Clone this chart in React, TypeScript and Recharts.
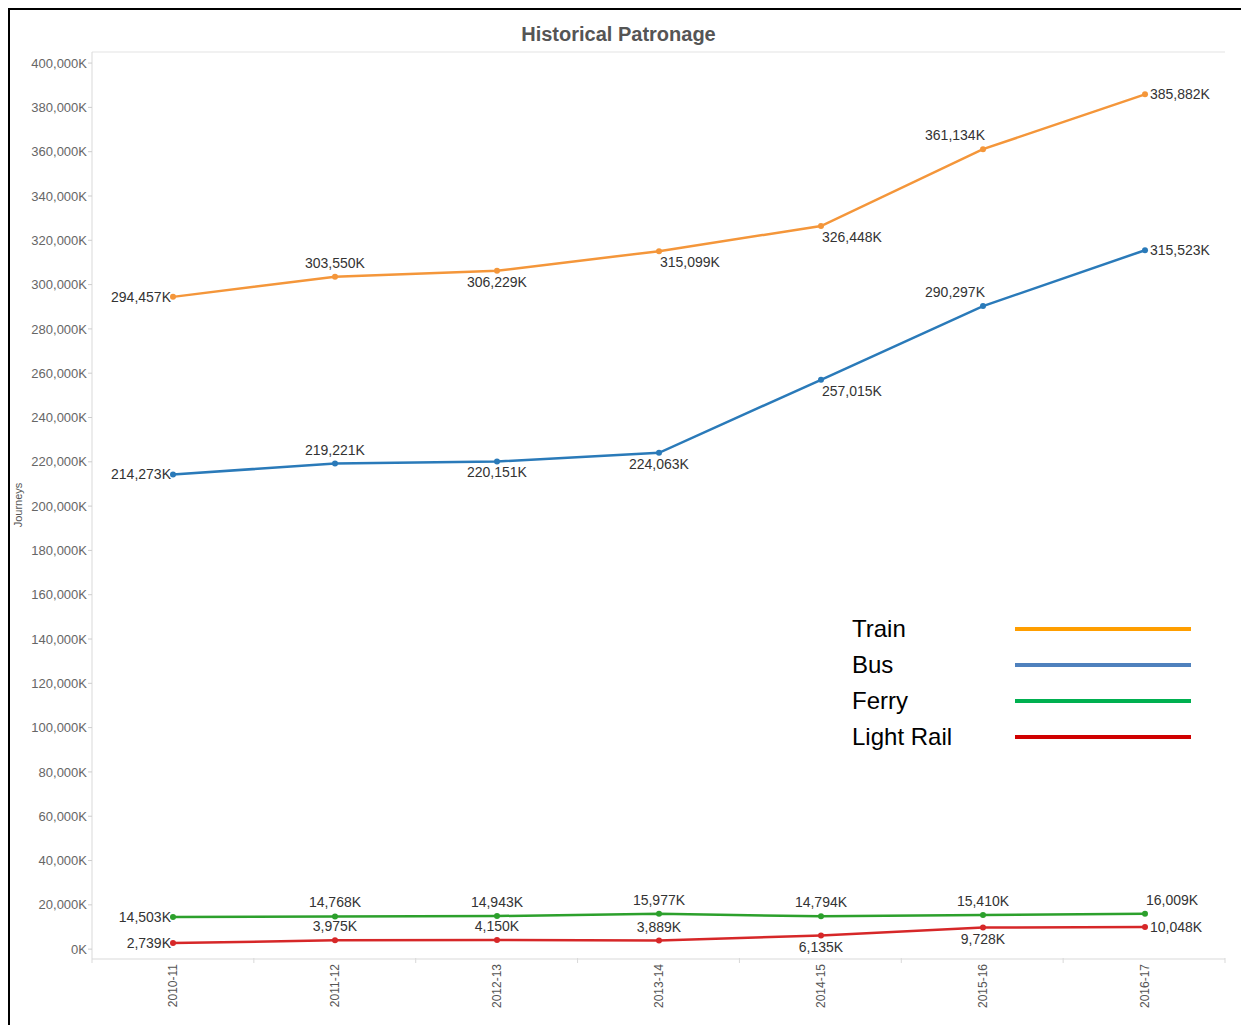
import React from 'react';
import { LineChart, Line, XAxis, YAxis, LabelList, ReferenceLine } from 'recharts';

const years = ['2010-11', '2011-12', '2012-13', '2013-14', '2014-15', '2015-16', '2016-17'];
const train = [294457, 303550, 306229, 315099, 326448, 361134, 385882];
const bus = [214273, 219221, 220151, 224063, 257015, 290297, 315523];
const ferry = [14503, 14768, 14943, 15977, 14794, 15410, 16009];
const lightRail = [2739, 3975, 4150, 3889, 6135, 9728, 10048];
const yTicks = [0, 20000, 40000, 60000, 80000, 100000, 120000, 140000, 160000, 180000, 200000,
  220000, 240000, 260000, 280000, 300000, 320000, 340000, 360000, 380000, 400000];
const bandEdges = [-0.5, 0.5, 1.5, 2.5, 3.5, 4.5, 5.5, 6.5];

// where each point label sits: l=left, r=right, a=above, b=below, s/e = start/end anchored
const trainLabels = ['l', 'a', 'b', 'bs', 'bs', 'ae', 'r'];
const busLabels = ['l', 'a', 'b', 'b', 'bs', 'ae', 'r'];
const ferryLabels = ['l', 'a', 'a', 'a', 'a', 'a', 'as'];
const railLabels = ['l', 'a', 'a', 'a', 'b', 'b', 'r'];

const data = years.map((year, i) => ({
  year,
  pos: i,
  train: train[i],
  bus: bus[i],
  ferry: ferry[i],
  lightRail: lightRail[i],
}));

const series = [
  { key: 'train', name: 'Train', color: '#f4963a', legend: '#ff9e00', labels: trainLabels },
  { key: 'bus', name: 'Bus', color: '#2a7ab9', legend: '#4f81bd', labels: busLabels },
  { key: 'ferry', name: 'Ferry', color: '#2ca02c', legend: '#00b050', labels: ferryLabels },
  { key: 'lightRail', name: 'Light Rail', color: '#d62728', legend: '#d00000', labels: railLabels },
];

const FONT = '"Liberation Sans", Arial, sans-serif';
const fmt = (v: number) => v.toLocaleString('en-US') + 'K';

const makeLabel = (places: string[]) => (props: any) => {
  const { x, y, value, index } = props;
  const p = places[index];
  let tx = x;
  let ty = y;
  let anchor: 'start' | 'middle' | 'end' = 'middle';
  if (p === 'l') { tx = x - 2; ty = y + 5; anchor = 'end'; }
  else if (p === 'r') { tx = x + 5; ty = y + 5; anchor = 'start'; }
  else {
    ty = p[0] === 'a' ? y - 9 : y + 16;
    if (p[1] === 's') { tx = x + 1; anchor = 'start'; }
    if (p[1] === 'e') { tx = x + 2; anchor = 'end'; }
  }
  return (
    <text x={tx} y={ty} textAnchor={anchor} fontSize={14} fill="#333" fontFamily={FONT}>
      {fmt(value)}
    </text>
  );
};

const XTick = (props: any) => {
  const { x, y, payload } = props;
  return (
    <text x={x + 4} y={y} transform={`rotate(-90, ${x + 4}, ${y})`} textAnchor="end"
      fontSize={12} fill="#555" fontFamily={FONT}>
      {payload.value}
    </text>
  );
};

const YLabel = (props: any) => {
  const { viewBox } = props;
  const cx = viewBox.x + 12;
  const cy = viewBox.y + viewBox.height / 2;
  return (
    <text x={cx} y={cy} transform={`rotate(-90, ${cx}, ${cy})`} textAnchor="middle"
      fontSize={11} fill="#555" fontFamily={FONT}>
      Journeys
    </text>
  );
};

export default function App() {
  return (
    <div style={{
      position: 'relative', width: 1237, height: 1015,
      borderTop: '2px solid #000', borderLeft: '2px solid #000', borderRight: '1px solid #ddd',
      background: '#fff',
    }}>
      <div style={{
        position: 'absolute', left: 0, top: 13, width: 1217, textAlign: 'center',
        fontFamily: FONT, fontWeight: 'bold', fontSize: 20, color: '#555',
      }}>
        Historical Patronage
      </div>
      <LineChart width={1237} height={1015} data={data}
        margin={{ top: 42, right: 22, bottom: 6, left: 0 }}>
        <XAxis xAxisId="edges" type="number" dataKey="pos" domain={[-0.5, 6.5]} ticks={bandEdges}
          allowDataOverflow tick={() => <g />} tickSize={5} axisLine={false}
          tickLine={{ stroke: '#d9d9d9' }} height={1} />
        <XAxis xAxisId="main" dataKey="year" height={60} padding={{ left: 81, right: 80 }}
          axisLine={{ stroke: '#d9d9d9' }} tickLine={false} tickSize={0} tickMargin={5}
          tick={<XTick />} interval={0} />
        <YAxis width={82} domain={[-4000, 405000]} ticks={yTicks} allowDataOverflow
          tickFormatter={fmt} tick={{ fontSize: 13, fill: '#666', fontFamily: FONT }}
          tickSize={4} tickMargin={1} tickLine={{ stroke: '#ccc' }} axisLine={{ stroke: '#d9d9d9' }}
          label={<YLabel />} />
        <ReferenceLine xAxisId="main" y={405000} stroke="#e3e3e3" ifOverflow="visible" />
        {series.map((s) => (
          <Line key={s.key} xAxisId="main" name={s.name} dataKey={s.key} stroke={s.color}
            strokeWidth={2.5} dot={{ r: 3, fill: s.color, stroke: 'none' }} isAnimationActive={false}>
            <LabelList dataKey={s.key} content={makeLabel(s.labels)} />
          </Line>
        ))}
      </LineChart>
      <div style={{ position: 'absolute', left: 842, top: 601, fontFamily: FONT }}>
        {series.map((s) => (
          <div key={s.key} style={{ display: 'flex', alignItems: 'center', height: 36 }}>
            <span style={{ width: 163, fontSize: 24, color: '#000' }}>{s.name}</span>
            <span style={{ width: 176, height: 4, background: s.legend, display: 'inline-block' }} />
          </div>
        ))}
      </div>
    </div>
  );
}
